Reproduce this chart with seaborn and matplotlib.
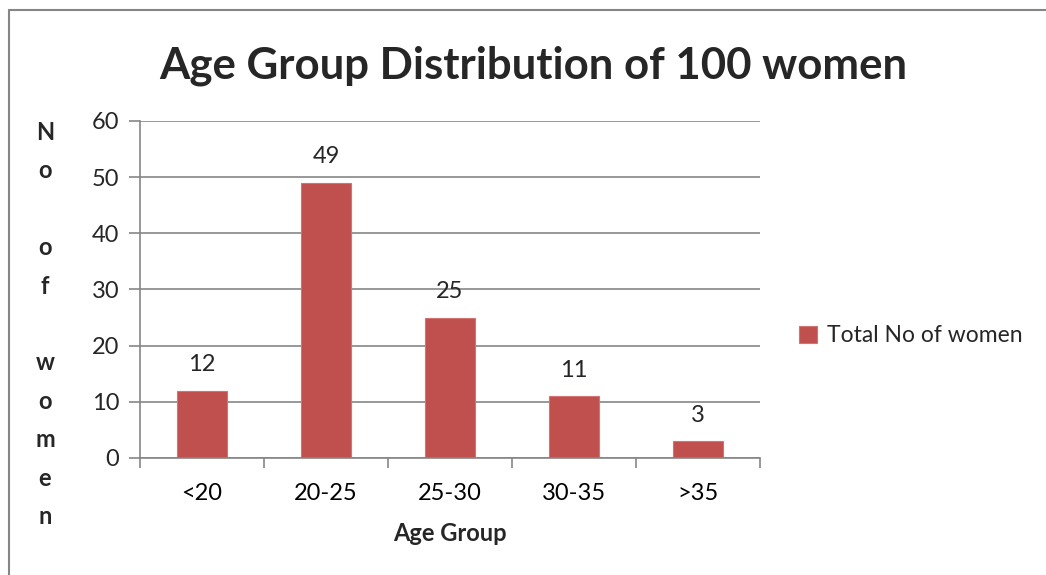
import pandas as pd
import matplotlib
matplotlib.use("Agg")
import matplotlib.pyplot as plt
import seaborn as sns
from matplotlib.lines import Line2D

# data
age_groups = ["<20", "20-25", "25-30", "30-35", ">35"]
women_counts = [12, 49, 25, 11, 3]
series_name = "Total No of women"

df = pd.DataFrame({"Age Group": age_groups, "Count": women_counts, "Series": series_name})

sns.set_theme(style="white")
plt.rcParams["font.family"] = ["Lato", "DejaVu Sans"]

grey = "#868686"
bar_red = "#C0504D"

fig = plt.figure(figsize=(10.46, 5.75), dpi=100)
ax = fig.add_axes([0.1338, 0.2035, 0.5927, 0.5861])

sns.barplot(data=df, x="Age Group", y="Count", hue="Series", palette=[bar_red],
            width=0.4, saturation=1, ax=ax, edgecolor="#D27472", linewidth=0.8)

ax.set_ylim(0, 60)
ax.set_yticks(range(0, 61, 10))
ax.set_xlim(-0.5, len(age_groups) - 0.5)
ax.yaxis.grid(True, color=grey, linewidth=1.2)
ax.set_axisbelow(True)
for side in ["top", "right"]:
    ax.spines[side].set_visible(False)
for side in ["left", "bottom"]:
    ax.spines[side].set_color(grey)
    ax.spines[side].set_linewidth(1.2)

# x ticks sit on category boundaries (excel style)
ax.set_xticks([i - 0.5 for i in range(len(age_groups) + 1)], minor=True)
ax.tick_params(axis="x", which="major", length=0, labelsize=17, pad=18, colors="black")
ax.tick_params(axis="x", which="minor", length=7, width=1.2, color=grey, bottom=True)
ax.tick_params(axis="y", length=8, width=1.2, color=grey, labelsize=17, pad=7, left=True)

ax.bar_label(ax.containers[0], labels=[str(v) for v in women_counts], padding=11, fontsize=17)

ax.set_xlabel("Age Group", fontsize=17, fontweight="bold", labelpad=13)
ax.set_ylabel("")

fig.text(0.043, 0.4357, "\n".join("No of women"), fontsize=17, fontweight="bold",
         ha="center", va="center", linespacing=1.81)

fig.suptitle("Age Group Distribution of 100 women", x=0.51, y=0.92, fontsize=31.5,
             fontweight="bold")

leg = ax.legend(loc="center left", bbox_to_anchor=(1.03, 0.362), frameon=False,
                fontsize=16.5, handlelength=0.8, handleheight=0.8, handletextpad=0.4)

# chart frame (left and top edges visible)
fig.add_artist(Line2D([0.0086, 0.0086], [0, 0.9826], color=grey, linewidth=1.5,
                      transform=fig.transFigure))
fig.add_artist(Line2D([0.0086, 1.0], [0.9826, 0.9826], color=grey, linewidth=1.5,
                      transform=fig.transFigure))

fig.savefig("out.png", dpi=100)
